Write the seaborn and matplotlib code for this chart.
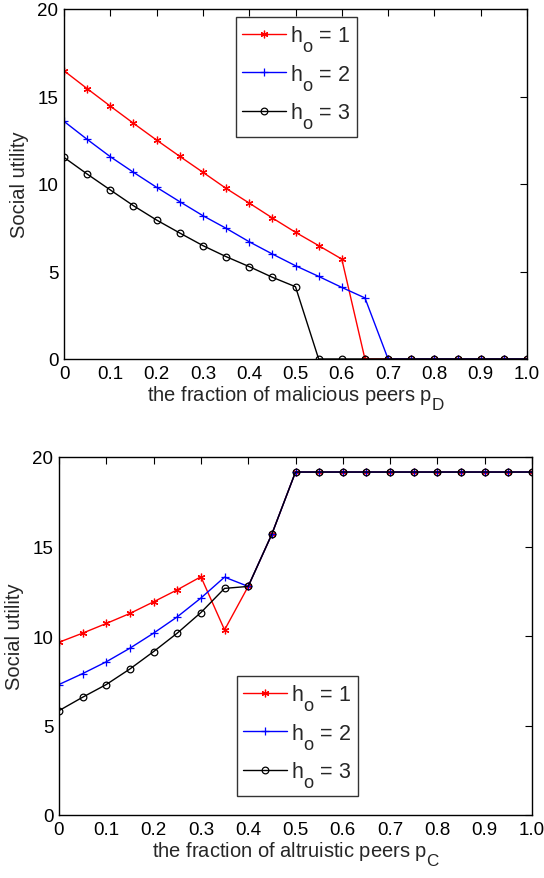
import matplotlib
matplotlib.use("Agg")
import matplotlib.pyplot as plt
import seaborn as sns
import numpy as np

# MATLAB-like subscripts: bigger and lower than matplotlib's default
try:
    import matplotlib._mathtext as _mt
    _mt.SHRINK_FACTOR = 0.85
    _mt.FontConstantsBase.sub1 = 0.9
    _mt.FontConstantsBase.subdrop = 0.6
except Exception:
    pass

sns.set_style("white")
plt.rcParams['font.family'] = ['Liberation Sans', 'DejaVu Sans']
plt.rcParams['mathtext.fontset'] = 'custom'
plt.rcParams['mathtext.rm'] = 'Liberation Sans'
plt.rcParams['mathtext.it'] = 'Liberation Sans'

x_vals = [0, 0.05, 0.1, 0.15, 0.2, 0.25, 0.3, 0.35, 0.4, 0.45, 0.5,
          0.55, 0.6, 0.65, 0.7, 0.75, 0.8, 0.85, 0.9, 0.95, 1.0]

# Top panel: fraction of malicious peers
top_h1 = [16.47, 15.45, 14.45, 13.47, 12.51, 11.58, 10.67, 9.75, 8.91, 8.06, 7.24,
          6.48, 5.71, 0, 0, 0, 0, 0, 0, 0, 0]
top_h2 = [13.58, 12.55, 11.56, 10.67, 9.81, 8.99, 8.19, 7.47, 6.70, 6.00, 5.33,
          4.72, 4.09, 3.49, 0, 0, 0, 0, 0, 0, 0]
top_h3 = [11.52, 10.57, 9.66, 8.76, 7.94, 7.20, 6.48, 5.85, 5.28, 4.67, 4.13,
          0, 0, 0, 0, 0, 0, 0, 0, 0, 0]

# Bottom panel: fraction of altruistic peers
bot_h1 = [9.65, 10.16, 10.70, 11.26, 11.91, 12.58, 13.31, 10.34, 12.77, 15.69, 19.16,
          19.16, 19.16, 19.16, 19.16, 19.16, 19.16, 19.16, 19.16, 19.16, 19.16]
bot_h2 = [7.29, 7.90, 8.56, 9.32, 10.16, 11.07, 12.12, 13.29, 12.77, 15.69, 19.16,
          19.16, 19.16, 19.16, 19.16, 19.16, 19.16, 19.16, 19.16, 19.16, 19.16]
bot_h3 = [5.83, 6.58, 7.29, 8.16, 9.13, 10.16, 11.31, 12.66, 12.77, 15.69, 19.16,
          19.16, 19.16, 19.16, 19.16, 19.16, 19.16, 19.16, 19.16, 19.16, 19.16]

labels = [r'h$_\mathregular{o}$ = 1', r'h$_\mathregular{o}$ = 2', r'h$_\mathregular{o}$ = 3']
colors = ['#ff0000', '#0000ff', '#000000']
markers = [(6, 2, 0), '+', 'o']
msizes = [5.5, 6, 4.8]

xticks = [0, 0.1, 0.2, 0.3, 0.4, 0.5, 0.6, 0.7, 0.8, 0.9, 1.0]
xticklabels = ['0', '0.1', '0.2', '0.3', '0.4', '0.5', '0.6', '0.7', '0.8', '0.9', '1.0']
yticks = [0, 5, 10, 15, 20]

fig = plt.figure(figsize=(5.44, 8.79), dpi=100)
ax1 = fig.add_axes([64/544, 1-360/879, (527-64)/544, 350/879])
ax2 = fig.add_axes([59/544, 1-816/879, (532-59)/544, 358/879])

def draw(ax, series, xlabel, legend_loc):
    for ys, lab, c, m, ms in zip(series, labels, colors, markers, msizes):
        kw = dict(mfc='none') if m == 'o' else {}
        sns.lineplot(x=x_vals, y=ys, ax=ax, color=c, marker=m, markersize=ms,
                     markeredgecolor=c, markeredgewidth=0.9, linewidth=1.0,
                     label=lab, **kw)
    ax.set_xlim(0, 1.0)
    ax.set_ylim(0, 20)
    ax.set_xticks(xticks)
    ax.set_xticklabels(xticklabels)
    ax.set_yticks(yticks)
    ax.tick_params(direction='in', length=5, width=0.8, top=True, right=True,
                   labelsize=13.5, pad=4, colors='black')
    for s in ax.spines.values():
        s.set_visible(True)
        s.set_color('black')
        s.set_linewidth(1.0)
    ax.set_ylabel('Social utility', fontsize=14.5, labelpad=6)
    ax.set_xlabel(xlabel, fontsize=14.5, labelpad=1)
    leg = ax.legend(loc='upper left', bbox_to_anchor=legend_loc, fontsize=15.5,
                    frameon=True, fancybox=False, edgecolor='black',
                    handlelength=2.0, handletextpad=0.2, labelspacing=0.35,
                    borderpad=0.3, borderaxespad=0)
    leg.get_frame().set_linewidth(1.0)

draw(ax1, [top_h1, top_h2, top_h3], r'the fraction of malicious peers p$_\mathregular{D}$',
     ((236-64)/463, (360-18)/350))
draw(ax2, [bot_h1, bot_h2, bot_h3], r'the fraction of altruistic peers p$_\mathregular{C}$',
     ((237-59)/473, (816-677)/358))

fig.savefig('out.png', dpi=100)
